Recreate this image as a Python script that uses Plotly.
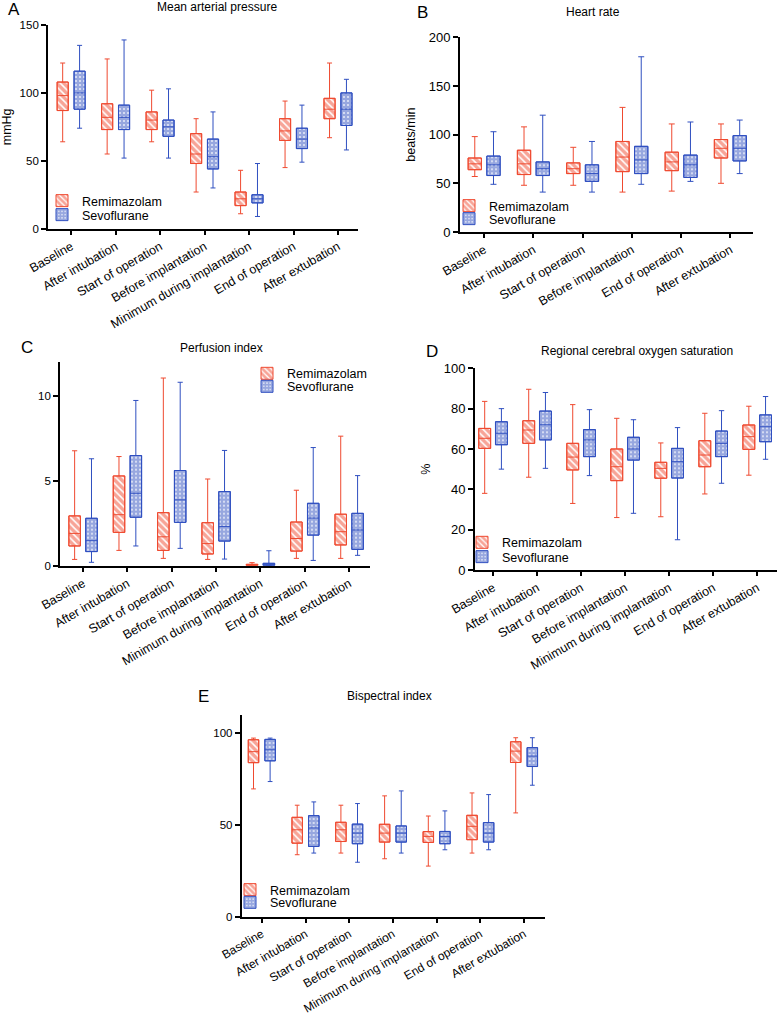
import plotly.graph_objects as go

W, H = 779, 1015

stages = ["Baseline", "After intubation", "Start of operation", "Before implantation",
          "Minimum during implantation", "End of operation", "After extubation"]
stages_hr = ["Baseline", "After intubation", "Start of operation", "Before implantation",
             "End of operation", "After extubation"]

# A - mean arterial pressure (mmHg)
map_remi_lo = [64, 55, 64, 27, 11, 45, 67]
map_remi_q1 = [87, 73, 73, 48, 17, 65, 81]
map_remi_med = [98, 82, 80, 55, 22, 72, 88]
map_remi_q3 = [108, 92, 86, 70, 27, 81, 96]
map_remi_hi = [122, 125, 102, 81, 43, 94, 122]
map_sevo_lo = [74, 52, 52, 30, 9, 49, 58]
map_sevo_q1 = [88, 73, 68, 44, 19, 59, 76]
map_sevo_med = [100, 82, 75, 53, 22, 66, 88]
map_sevo_q3 = [116, 91, 80, 66, 25, 74, 100]
map_sevo_hi = [135, 139, 103, 86, 48, 91, 110]

# B - heart rate (beats/min)
hr_remi_lo = [57, 48, 48, 41, 42, 50]
hr_remi_q1 = [64, 59, 60, 62, 63, 76]
hr_remi_med = [70, 70, 65, 77, 72, 86]
hr_remi_q3 = [76, 84, 71, 93, 82, 95]
hr_remi_hi = [98, 108, 87, 128, 111, 111]
hr_sevo_lo = [49, 41, 41, 49, 52, 60]
hr_sevo_q1 = [58, 58, 52, 60, 56, 73]
hr_sevo_med = [69, 65, 60, 74, 69, 86]
hr_sevo_q3 = [78, 72, 69, 88, 79, 99]
hr_sevo_hi = [103, 120, 93, 180, 113, 115]

# C - perfusion index
pi_remi_lo = [0.37, 0.9, 0.43, 0.37, 0.0, 0.43, 0.43]
pi_remi_q1 = [1.16, 1.96, 0.9, 0.69, 0.02, 0.86, 1.22]
pi_remi_med = [1.9, 3.0, 1.7, 1.3, 0.04, 1.6, 2.0]
pi_remi_q3 = [2.93, 5.28, 3.12, 2.53, 0.08, 2.57, 3.03]
pi_remi_hi = [6.76, 6.42, 11.04, 5.1, 0.18, 4.44, 7.62]
pi_sevo_lo = [0.2, 1.16, 1.02, 0.39, 0.0, 0.31, 0.61]
pi_sevo_q1 = [0.83, 2.85, 2.55, 1.45, 0.02, 1.8, 0.96]
pi_sevo_med = [1.47, 4.26, 3.87, 2.3, 0.04, 2.8, 2.1]
pi_sevo_q3 = [2.79, 6.48, 5.6, 4.36, 0.14, 3.67, 3.08]
pi_sevo_hi = [6.29, 9.72, 10.79, 6.78, 0.88, 6.95, 5.3]

# D - regional cerebral oxygen saturation (%)
rso2_remi_lo = [38, 46, 33, 26, 26.4, 37.7, 47]
rso2_remi_q1 = [60.3, 62.8, 49.6, 44.3, 45.5, 51.2, 59.8]
rso2_remi_med = [65.3, 69.4, 56, 51.2, 50.4, 57, 66.1]
rso2_remi_q3 = [70.2, 74, 62.8, 60, 53.4, 64.1, 71.9]
rso2_remi_hi = [83.6, 89.6, 82, 75.2, 63, 77.7, 81.2]
rso2_sevo_lo = [50, 50.4, 46.8, 28.1, 15, 43, 54.9]
rso2_sevo_q1 = [62.1, 64.5, 56.2, 54.5, 45.6, 56.2, 63.6]
rso2_sevo_med = [67.8, 72, 64.5, 60, 53.7, 62.8, 71]
rso2_sevo_q3 = [73.5, 78.8, 69.6, 65.8, 60.3, 68.9, 76.9]
rso2_sevo_hi = [80, 88, 79.5, 74.5, 70.6, 79, 86]

# E - bispectral index
bis_remi_lo = [69.7, 33.8, 34.7, 31.6, 27.6, 34.7, 56.6]
bis_remi_q1 = [84, 40.1, 41, 40.7, 40.5, 42, 84.1]
bis_remi_med = [90, 47.4, 47.4, 45.6, 43.8, 49.3, 90.3]
bis_remi_q3 = [96.5, 54.2, 51.5, 50.4, 46.4, 55.3, 95.4]
bis_remi_hi = [97.4, 60.8, 60.8, 65.9, 54.9, 67.5, 97.6]
bis_sevo_lo = [73.7, 34.7, 29.7, 34.7, 36.5, 36.5, 71.7]
bis_sevo_q1 = [85, 38.3, 39.8, 40.7, 39.8, 40.7, 81.9]
bis_sevo_med = [91, 48.4, 45.6, 45.6, 43.8, 45.6, 87.6]
bis_sevo_q3 = [96.7, 55.1, 50.5, 49.5, 46.5, 51.3, 92.2]
bis_sevo_hi = [97.4, 62.6, 61.7, 68.6, 57.7, 66.6, 97.6]

RED = "#ef4a30"
BLUE = "#2f4fc0"
FONT = "Arial, Liberation Sans, sans-serif"


def px_x(v):
    return v / W


def px_y(v):
    return 1 - v / H


fig = go.Figure()


def add_group(n, cats, lo, q1, med, q3, hi, name, color, shift, pattern, width, legend):
    ax = "" if n == 1 else str(n)
    pos = [i + shift for i in range(len(cats))]
    fig.add_bar(x=pos, y=[b - a for a, b in zip(q1, q3)], base=q1, width=width,
                name=name, xaxis="x" + ax, yaxis="y" + ax, legend=legend,
                marker=dict(color="white", line=dict(color=color, width=1),
                            pattern=pattern), hoverinfo="skip")
    fig.add_box(x=pos, q1=q1, median=med, q3=q3, lowerfence=lo, upperfence=hi,
                width=width, whiskerwidth=0.45, fillcolor="rgba(0,0,0,0)",
                line=dict(color=color, width=1), boxpoints=False, showlegend=False,
                xaxis="x" + ax, yaxis="y" + ax)


def add_panel(n, cats, remi, sevo, width):
    add_group(n, cats, *remi, "Remimazolam", RED, -0.19,
              dict(shape="\\", fgcolor=RED, bgcolor="white", size=5, solidity=0.7),
              width, "legend%d" % (2 * n))
    add_group(n, cats, *sevo, "Sevoflurane", BLUE, 0.19,
              dict(shape="+", fgcolor=BLUE, bgcolor="white", size=4, solidity=0.85),
              width, "legend%d" % (2 * n + 1))


add_panel(1, stages, (map_remi_lo, map_remi_q1, map_remi_med, map_remi_q3, map_remi_hi),
          (map_sevo_lo, map_sevo_q1, map_sevo_med, map_sevo_q3, map_sevo_hi), 0.25)
add_panel(2, stages_hr, (hr_remi_lo, hr_remi_q1, hr_remi_med, hr_remi_q3, hr_remi_hi),
          (hr_sevo_lo, hr_sevo_q1, hr_sevo_med, hr_sevo_q3, hr_sevo_hi), 0.27)
add_panel(3, stages, (pi_remi_lo, pi_remi_q1, pi_remi_med, pi_remi_q3, pi_remi_hi),
          (pi_sevo_lo, pi_sevo_q1, pi_sevo_med, pi_sevo_q3, pi_sevo_hi), 0.26)
add_panel(4, stages, (rso2_remi_lo, rso2_remi_q1, rso2_remi_med, rso2_remi_q3, rso2_remi_hi),
          (rso2_sevo_lo, rso2_sevo_q1, rso2_sevo_med, rso2_sevo_q3, rso2_sevo_hi), 0.27)
add_panel(5, stages, (bis_remi_lo, bis_remi_q1, bis_remi_med, bis_remi_q3, bis_remi_hi),
          (bis_sevo_lo, bis_sevo_q1, bis_sevo_med, bis_sevo_q3, bis_sevo_hi), 0.24)

# panel geometry in pixels: x0, x1, ytop, ybottom, xrange, yrange, yticks, tick fonts, y title
panels = [
    (48, 358, 25, 228.7, [-0.52, 6.45], [0, 150], [0, 50, 100, 150], 11.5, 12.5, "mmHg", 8),
    (460, 753, 37.3, 232, [-0.49, 5.46], [0, 200], [0, 50, 100, 150, 200], 13, 12.5, "beats/min", 10),
    (60, 370, 361.7, 565.7, [-0.52, 6.47], [0, 12], [0, 5, 10], 11.5, 12.5, "", 6),
    (475, 777, 368.3, 570, [-0.41, 6.45], [0, 100], [0, 20, 40, 60, 80, 100], 13, 12.5, "%", 10),
    (241.7, 545, 715, 916.7, [-0.46, 6.48], [0, 110], [0, 50, 100], 11.5, 12, "", 6),
]
layout = {}
for n, (x0, x1, yt, yb, xr, yr, yt_vals, tf, xf, ytitle, stand) in enumerate(panels, 1):
    ax = "" if n == 1 else str(n)
    cats = stages_hr if n == 2 else stages
    layout["xaxis" + ax] = dict(
        domain=[px_x(x0), px_x(x1)], anchor="y" + ax, range=xr, automargin=False,
        tickmode="array", tickvals=list(range(len(cats))), ticktext=cats,
        tickangle=-30, ticks="outside", ticklen=4, tickwidth=1.8, tickcolor="black",
        showline=True, linewidth=1.8, linecolor="black", showgrid=False, zeroline=False,
        tickfont=dict(size=xf, color="black"))
    layout["yaxis" + ax] = dict(
        domain=[px_y(yb), px_y(yt)], anchor="x" + ax, range=yr, automargin=False,
        tickmode="array", tickvals=yt_vals, ticks="outside", ticklen=5, tickwidth=1.8,
        tickcolor="black", showline=True, linewidth=1.8, linecolor="black",
        showgrid=False, zeroline=False, tickfont=dict(size=tf, color="black"),
        title=dict(text=ytitle, font=dict(size=12.5, color="black"), standoff=stand))

# one legend per entry: (left px, row centre px) for Remimazolam, then Sevoflurane
legend_rows = [(42, 201), (42, 215), (449, 206), (449, 219), (247, 373.7), (247, 386.7),
               (462, 542.7), (462, 557), (230, 890), (230, 902.7)]
for k, (lx, ly) in enumerate(legend_rows, 2):
    layout["legend%d" % k] = dict(x=px_x(lx), y=px_y(ly), xanchor="left", yanchor="middle",
                                  bgcolor="rgba(0,0,0,0)", font=dict(size=12.5, color="black"),
                                  itemwidth=30, borderwidth=0)

titles = [("Mean arterial pressure", 217, 7), ("Heart rate", 593, 12),
          ("Perfusion index", 221, 348), ("Regional cerebral oxygen saturation", 637, 351),
          ("Bispectral index", 389, 696)]
letters = [("A", 14, 10), ("B", 422, 13), ("C", 27, 347), ("D", 432, 351), ("E", 203, 696)]
annotations = []
for text, x, y in titles:
    annotations.append(dict(text=text, x=px_x(x), y=px_y(y), xref="paper", yref="paper",
                            xanchor="center", yanchor="middle", showarrow=False,
                            font=dict(size=12, color="black")))
for text, x, y in letters:
    annotations.append(dict(text=text, x=px_x(x), y=px_y(y), xref="paper", yref="paper",
                            xanchor="center", yanchor="middle", showarrow=False,
                            font=dict(size=17, color="black")))

fig.update_layout(
    width=W, height=H, margin=dict(l=0, r=0, t=0, b=0, autoexpand=False),
    paper_bgcolor="white", plot_bgcolor="white", showlegend=True,
    font=dict(family=FONT, color="black"),
    barmode="overlay", boxmode="overlay",
    annotations=annotations, **layout)

# the page body has a default 8px margin; drop it so the figure fills the window
fig.write_html("out.html", config={"displayModeBar": False},
               post_script="document.body.style.margin='0';")
